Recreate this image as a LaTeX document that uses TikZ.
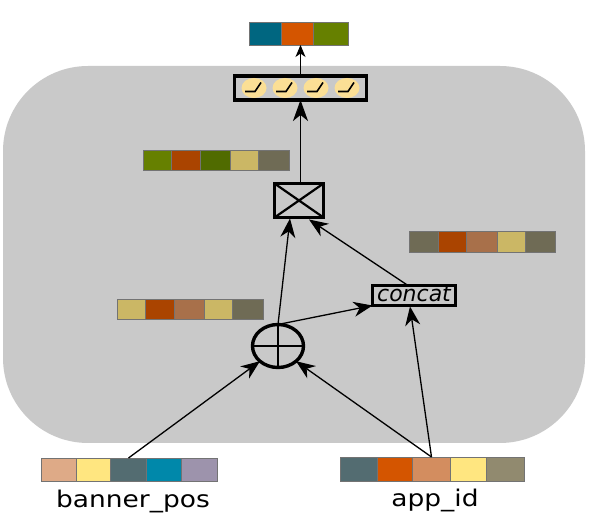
\documentclass[tikz,border=0pt]{standalone}
\usepackage{fontspec}
\setmainfont{DejaVu Sans}
\usetikzlibrary{arrows.meta,shapes.geometric}
\definecolor{panel}{HTML}{C9C9C9}
\definecolor{cTeal}{HTML}{006680}
\definecolor{cOrange}{HTML}{D45500}
\definecolor{cGreen}{HTML}{668000}
\definecolor{cGreenD}{HTML}{506B00}
\definecolor{cRust}{HTML}{AA4400}
\definecolor{cTan}{HTML}{CBB765}
\definecolor{cOlive}{HTML}{6F6B55}
\definecolor{cClay}{HTML}{A8704A}
\definecolor{cPeach}{HTML}{DEAA87}
\definecolor{cYellow}{HTML}{FFE680}
\definecolor{cSlate}{HTML}{536C71}
\definecolor{cBlue}{HTML}{0088AA}
\definecolor{cMauve}{HTML}{9D93AC}
\definecolor{cCopper}{HTML}{D38D5F}
\definecolor{cKhaki}{HTML}{918A6F}
\definecolor{cBulb}{HTML}{FBDF95}
\tikzset{
  cell/.style={draw=black!55,line width=.7pt,inner sep=0pt,outer sep=0pt},
  small link/.style={draw=black,line width=1pt,-{Stealth[length=12pt,width=10pt,inset=3.5pt]}},
  thin link/.style={draw=black,line width=1.3pt,-{Stealth[length=19pt,width=15pt,inset=6pt]}},
  thick link/.style={draw=black,line width=1.8pt,-{Stealth[length=21pt,width=15pt,inset=6pt]}},
  opbox/.style={draw=black,line width=3.5pt,inner sep=0pt,outer sep=0pt},
  caption/.style={font=\fontsize{23}{25}\selectfont,xscale=1.15,transform shape,inner sep=0pt},
}
\newcommand{\cellstrip}[4]{%
  \foreach \i/\a/\b/\c in {#4}
    \node[cell,fill=\c,minimum width={(\b-\a)*1pt},minimum height={(#3-#2)*1pt}]
      (#1\i) at ({(\a+\b)/2},{(#2+#3)/2}) {};
}
\begin{document}
\begin{tikzpicture}[x=1pt,y=-1pt]
\useasboundingbox (0,0) rectangle (590,518);
\node[fill=panel,rounded corners=85pt,minimum width=582pt,minimum height=377pt,inner sep=0pt] (panelbox) at (294,254.5) {};

\cellstrip{top}{22}{45}{1/249.5/281.5/cTeal,2/281.5/313.5/cOrange,3/313.5/348.5/cGreen}
\cellstrip{mixa}{150}{170.5}{1/143.5/171.5/cGreen,2/171.5/200.5/cRust,3/200.5/230.5/cGreenD,4/230.5/258.5/cTan,5/258.5/289.5/cOlive}
\cellstrip{mixb}{299}{319}{1/117.5/145.5/cTan,2/145.5/174.5/cRust,3/174.5/204.5/cClay,4/204.5/232.5/cTan,5/232.5/263.5/cOlive}
\cellstrip{mixc}{231}{252}{1/409.5/438.5/cOlive,2/438.5/466.5/cRust,3/466.5/497.5/cClay,4/497.5/525.5/cTan,5/525.5/555.5/cOlive}
\cellstrip{banner}{458}{481}{1/41.5/76.5/cPeach,2/76.5/110.5/cYellow,3/110.5/146.5/cSlate,4/146.5/181.5/cBlue,5/181.5/217.5/cMauve}
\cellstrip{app}{457}{481}{1/340.5/377.5/cSlate,2/377.5/412.5/cOrange,3/412.5/450.5/cCopper,4/450.5/486.5/cYellow,5/486.5/524.5/cKhaki}

\node[opbox,minimum width=132pt,minimum height=24pt] (act) at (300.5,88) {};
\foreach \i/\x in {1/254,2/285,3/316,4/347}{
  \node[ellipse,fill=cBulb,minimum width=25pt,minimum height=20pt,inner sep=0pt] (bulb\i) at (\x,88) {};
  \draw[line width=1.6pt] ([shift={(-9,3.5)}]bulb\i.center) -- ([shift={(1,3.5)}]bulb\i.center) -- ([shift={(7,-5.5)}]bulb\i.center);
}

\node[opbox,minimum width=49pt,minimum height=34pt] (mult) at (299,200.5) {};
\draw[line width=2.2pt] (mult.north west) -- (mult.south east) (mult.north east) -- (mult.south west);

\node[opbox,line width=2.5pt,minimum width=83pt,minimum height=20pt] (concat) at (414,295.5) {};
\node[anchor=base,inner sep=0pt,font=\fontsize{22}{22}\selectfont\itshape] (concatlabel) at (414,302) {concat};

\node[ellipse,draw=black,line width=3.4pt,minimum width=51pt,minimum height=43pt,inner sep=0pt,outer sep=0pt] (add) at (278,346) {};
\draw[line width=2.4pt] (add.north) -- (add.south) (add.west) -- (add.east);

\node[caption] (bannerlabel) at (133,501) {banner\_pos};
\node[caption] (applabel) at (435,500) {app\_id};

\draw[small link] (act.north) -- (act.north |- top2.south);
\draw[thick link] (act.south |- mult.north) -- (act.south);
\draw[thin link] (add.north) -- ([xshift=-9pt,yshift=-1pt]mult.south);
\draw[thin link] (add.north) -- (concat.south west);
\draw[thin link] ([xshift=-6pt]concat.north) -- ([xshift=10pt,yshift=-2pt]mult.south);
\draw[thin link] (app3.north) -- ([xshift=-4pt,yshift=-1pt]concat.south);
\draw[thin link] (app3.north) -- (add.south east);
\draw[thin link] (banner3.north) -- (add.south west);
\end{tikzpicture}
\end{document}
